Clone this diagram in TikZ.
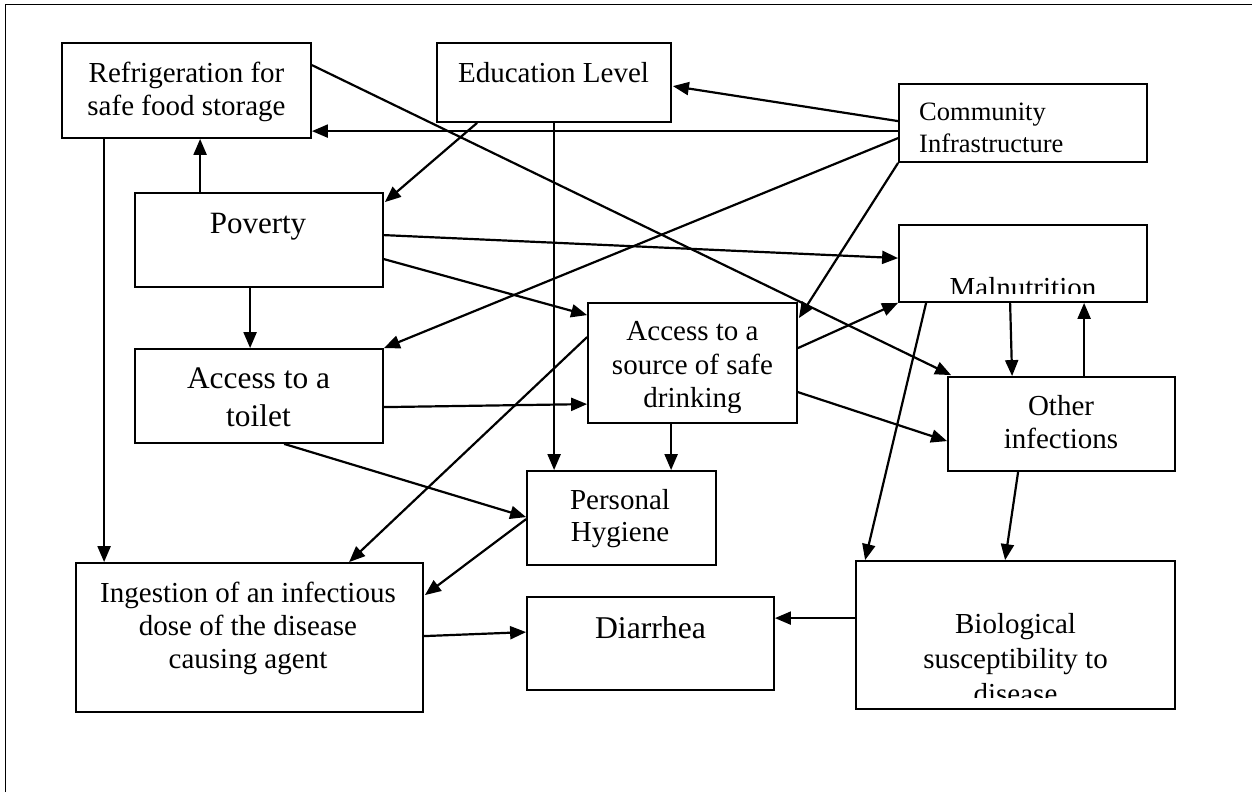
\documentclass[tikz,border=0pt]{standalone}
\usepackage{fontspec}
\setmainfont{Liberation Serif}
\usetikzlibrary{arrows.meta,calc}
\begin{document}
\begin{tikzpicture}[x=1pt,y=-1pt,
  box/.style={draw,line width=1.8pt,inner sep=0pt,rectangle},
  lbl/.style={inner sep=0pt,anchor=base,align=center},
  arr/.style={line width=2.2pt,-{Triangle[length=16pt,width=13pt]}},
  frame/.style={line width=1.8pt}]
\useasboundingbox (0,0) rectangle (1252,792);
\fill[white] (0,0) rectangle (1252,792);
\draw[frame] (5.5,792) -- (5.5,4.5) -- (1252,4.5);

% boxes
\node[box,minimum width=249pt,minimum height=95pt] (ref) at (186.5,90.5) {};
\node[box,minimum width=234pt,minimum height=79pt] (edu) at (554,82.5) {};
\node[box,minimum width=248pt,minimum height=78pt] (com) at (1023,123) {};
\node[box,minimum width=248pt,minimum height=94pt] (pov) at (259,240) {};
\node[box,minimum width=248pt,minimum height=77pt] (mal) at (1023,263.5) {};
\node[box,minimum width=248pt,minimum height=94pt] (toi) at (259,396) {};
\node[box,minimum width=209pt,minimum height=120pt] (wat) at (692.5,363) {};
\node[box,minimum width=227pt,minimum height=94pt] (oth) at (1061.5,424) {};
\node[box,minimum width=189pt,minimum height=94pt] (hyg) at (621.5,518) {};
\node[box,minimum width=347pt,minimum height=149pt] (ing) at (249.5,637.5) {};
\node[box,minimum width=247pt,minimum height=93pt] (dia) at (650.5,643.5) {};
\node[box,minimum width=319pt,minimum height=148pt] (bio) at (1015.5,635) {};

% labels (anchor = baseline of the last line)
\node[lbl,font=\fontsize{29}{33}\selectfont] (tref) at (186.5,115) {Refrigeration for\\safe food storage};
\node[lbl,font=\fontsize{29}{34}\selectfont] (tedu) at (553.5,82) {Education Level};
\node[lbl,font=\fontsize{26.5}{32}\selectfont,align=left,anchor=base west] (tcom) at (919,152) {Community\\Infrastructure};
\node[lbl,font=\fontsize{31}{36}\selectfont] (tpov) at (258,233) {Poverty};
\begin{scope}
\clip (mal.north west) rectangle ($(mal.south east)+(0,-9)$);
\node[lbl,font=\fontsize{29}{34}\selectfont] (tmal) at (1023,297) {Malnutrition};
\end{scope}
\node[lbl,font=\fontsize{31.4}{37.5}\selectfont] (ttoi) at (258.5,426) {Access to a\\toilet};
\begin{scope}
\clip (wat.north west) rectangle ($(wat.south east)+(0,-11)$);
\node[lbl,font=\fontsize{29}{33.5}\selectfont] (twat) at (692.5,407.5) {Access to a\\source of safe\\drinking};
\end{scope}
\node[lbl,font=\fontsize{29}{33}\selectfont] (toth) at (1061,448) {Other\\infections};
\node[lbl,font=\fontsize{29}{32}\selectfont] (thyg) at (620,541) {Personal\\Hygiene};
\node[lbl,font=\fontsize{29}{33}\selectfont] (ting) at (248,668) {Ingestion of an infectious\\dose of the disease\\causing agent};
\node[lbl,font=\fontsize{31.7}{36}\selectfont] (tdia) at (650.5,638) {Diarrhea};
\begin{scope}
\clip (bio.north west) rectangle ($(bio.south east)+(0,-12)$);
\node[lbl,font=\fontsize{29}{35}\selectfont] (tbio) at (1015.5,703) {Biological\\susceptibility to\\disease};
\end{scope}

% connectors
\draw[arr] ($(com.north west)+(0,38)$) -- ($(edu.north east)+(1,44)$);
\draw[arr] ($(com.north west)+(0,48)$) -- ($(ref.north east)+(0,89)$);
\draw[arr] ($(com.north west)+(0,55)$) -- (toi.north east);
\draw[arr] (com.south west) -- ($(wat.north east)+(1,16)$);
\draw[arr] ($(edu.south west)+(41,0)$) -- ($(pov.north east)+(1,10)$);
\draw[arr] ($(edu.south west)+(118,0)$) -- ($(hyg.north west)+(28,0)$);
\draw[arr] ($(ref.north east)+(0,23)$) -- ($(oth.north west)+(4,-1)$);
\draw[arr] ($(ref.south west)+(43,0)$) -- ($(ing.north west)+(29,0)$);
\draw[arr] ($(pov.north west)+(66,0)$) -- ($(ref.south west)+(139,0)$);
\draw[arr] ($(pov.north east)+(0,43)$) -- ($(mal.north west)+(0,34)$);
\draw[arr] ($(pov.north east)+(0,67)$) -- ($(wat.north west)+(0,13)$);
\draw[arr] ($(pov.south west)+(116,0)$) -- ($(toi.north west)+(116,0)$);
\draw[arr] ($(toi.north east)+(0,59)$) -- ($(wat.north west)+(0,102)$);
\draw[arr] ($(toi.south west)+(150,0)$) -- ($(hyg.north west)+(0,47)$);
\draw[arr] ($(wat.north west)+(0,35)$) -- ($(ing.north west)+(274,0)$);
\draw[arr] ($(hyg.north west)+(0,49)$) -- ($(ing.north east)+(1,33)$);
\draw[arr] ($(wat.south west)+(84,0)$) -- ($(hyg.north west)+(145,0)$);
\draw[arr] ($(wat.north east)+(0,46)$) -- (mal.south west);
\draw[arr] ($(wat.north east)+(0,90)$) -- ($(oth.north west)+(0,65)$);
\draw[arr] ($(mal.south west)+(28,0)$) -- ($(bio.north west)+(10,0)$);
\draw[arr] ($(mal.south west)+(112,0)$) -- ($(oth.north west)+(65,0)$);
\draw[arr] ($(oth.north west)+(137,0)$) -- ($(mal.south west)+(186,0)$);
\draw[arr] ($(oth.south west)+(71,0)$) -- ($(bio.north west)+(150,0)$);
\draw[arr] ($(bio.north west)+(0,58)$) -- ($(dia.north east)+(0,22)$);
\draw[arr] ($(ing.north east)+(0,74)$) -- ($(dia.north west)+(0,36)$);
\end{tikzpicture}
\end{document}
